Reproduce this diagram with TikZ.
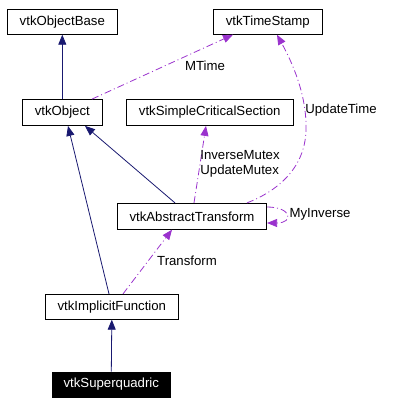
\documentclass[tikz,border=0pt]{standalone}
\usepackage{fontspec}
\setmainfont{Liberation Sans}
\usetikzlibrary{arrows.meta}
\definecolor{navyc}{HTML}{191970}
\definecolor{purplec}{HTML}{9A32CD}
\begin{document}
\begin{tikzpicture}[x=1pt,y=-1pt,
  every node/.style={font=\fontsize{13.2}{15}\selectfont, inner sep=0pt},
  cls/.style={draw=black, fill=white, line width=0.8pt, minimum height=25pt},
  hl/.style={draw=black, fill=black, text=white, line width=0.8pt, minimum height=25pt},
  inh/.style={draw=navyc, line width=0.8pt, -{Triangle[length=10pt,width=8pt]}},
  use/.style={draw=purplec, line width=0.8pt, dash pattern=on 7pt off 3pt on 1pt off 3pt, -{Triangle[length=10pt,width=8pt]}},
  lbl/.style={text=black}]
\useasboundingbox (0,0) rectangle (420,404);
\node[cls, minimum width=110pt] (Base) at (62.3,21.8) {vtkObjectBase};
\node[cls, minimum width=109pt] (TS) at (267.8,21.8) {vtkTimeStamp};
\node[cls, minimum width=80pt, minimum height=26pt] (Obj) at (62.3,112.5) {vtkObject};
\node[cls, minimum width=167.3pt, minimum height=26pt] (SCS) at (209.7,112.5) {vtkSimpleCriticalSection};
\node[cls, minimum width=149.3pt, minimum height=26pt] (AT) at (192,216.3) {vtkAbstractTransform};
\node[cls, minimum width=133pt] (IF) at (111.8,306.8) {vtkImplicitFunction};
\node[hl, minimum width=118.7pt] (SQ) at (111.3,384.5) {vtkSuperquadric};

\draw[inh] (Obj.north) -- (Base.south);
\draw[inh] ([xshift=-17pt]AT.north) -- ([xshift=22.7pt]Obj.south);
\draw[inh] ([xshift=-2.8pt]IF.north) -- ([xshift=5.7pt]Obj.south);
\draw[inh] (SQ.north) -- (IF.south);

\draw[use] ([xshift=29.7pt]Obj.north) -- ([xshift=-34.8pt]TS.south);
\node[lbl] (lMTime) at (205,66) {MTime};

\draw[use] ([xshift=55pt]AT.north) .. controls (275,192) and (305,170) .. (306,130)
  .. controls (307,95) and (292,62) .. ([xshift=9.2pt]TS.south);
\node[lbl] (lUT) at (341,110) {UpdateTime};

\draw[use] ([xshift=2pt]AT.north) -- ([xshift=-3.7pt]SCS.south);
\node[lbl, align=left] (lMut) at (240,163.5) {InverseMutex\\UpdateMutex};

\draw[use] ([yshift=9.3pt]AT.east) .. controls (292,207) and (294,223) .. ([yshift=-6.7pt]AT.east);
\node[lbl] (lMI) at (320,214.5) {MyInverse};

\draw[use] ([xshift=11.2pt]IF.north) -- ([xshift=-20pt]AT.south);
\node[lbl] (lTr) at (187,260.7) {Transform};
\end{tikzpicture}
\end{document}
